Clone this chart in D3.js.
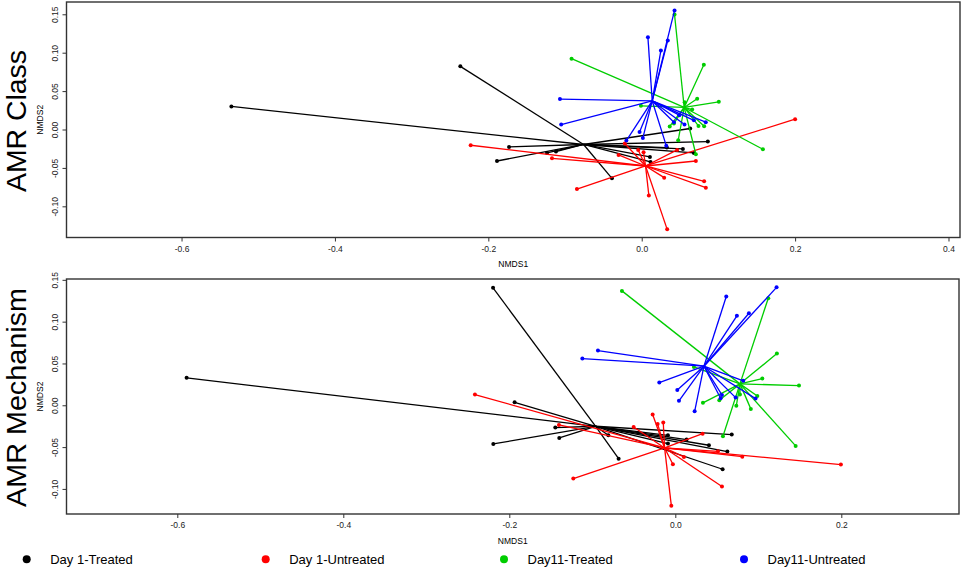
<!DOCTYPE html>
<html>
<head>
<meta charset="utf-8">
<script src="https://cdn.jsdelivr.net/npm/d3@7"></script>
<style>
  body { margin: 0; background: #fff; }
  svg { display: block; font-family: "Liberation Sans", Arial, sans-serif; }
</style>
</head>
<body>
<script>
/* data */
const groups = ["Day 1-Treated", "Day 1-Untreated", "Day11-Treated", "Day11-Untreated"];
const groupColors = ["#000000", "#ff0000", "#00cd00", "#0000ff"];
const panelTitles = ["AMR Class", "AMR Mechanism"];
const xTicksClass = [-0.6, -0.4, -0.2, 0.0, 0.2, 0.4];
const xTicksMech = [-0.6, -0.4, -0.2, 0.0, 0.2];
const yTicks = [-0.10, -0.05, 0.00, 0.05, 0.10, 0.15];

// AMR Class: centroids (same order as groups)
const classCentroids = [[-0.0758, -0.0195], [0.005, -0.0475], [0.0554, 0.0287], [0.0137, 0.0372]];
const classD1T = [[-0.535, 0.030], [-0.2365, 0.0822], [-0.173, -0.0227], [-0.1887, -0.041], [-0.1235, -0.0305],
  [-0.1118, -0.0287], [-0.0388, -0.0636], [0.0632, 0.0013], [0.0862, -0.0157], [0.0328, -0.0235],
  [0.0537, -0.0253], [0.068, -0.0305], [0.0107, -0.0357], [0.0115, -0.0423]];
const classD1U = [[-0.223, -0.0205], [-0.117, -0.0375], [-0.0845, -0.0775], [-0.0302, -0.0331], [-0.022, -0.0183],
  [-0.0046, -0.0266], [0.0024, -0.0296], [0.0093, -0.0858], [0.0293, -0.0627], [0.0332, -0.130],
  [0.0706, -0.041], [0.0814, -0.0675], [0.0836, -0.0757], [0.0462, -0.0266], [0.200, 0.0134]];
const classD11T = [[0.0428, 0.1496], [-0.0915, 0.0922], [0.081, 0.0843], [0.0723, 0.040], [0.1005, 0.036],
  [-0.001, 0.0308], [0.0658, 0.026], [0.056, 0.0356], [0.158, -0.0257], [0.0706, -0.0322],
  [0.0476, -0.014], [0.0365, 0.004], [0.042, 0.0078], [0.074, 0.0047], [0.0814, 0.0043]];
const classD11U = [[0.0428, 0.155], [0.0081, 0.120], [0.034, 0.116], [0.025, 0.103], [-0.1066, 0.0396],
  [-0.105, 0.0065], [-0.0028, -0.0031], [0.0015, -0.011], [-0.020, -0.0144], [0.032, -0.021],
  [0.042, 0.0095], [0.0558, 0.0065], [0.068, 0.012], [0.0835, 0.0095], [0.049, 0.0187]];

// AMR Mechanism
const mechCentroids = [[-0.096, -0.0251], [-0.0129, -0.051], [0.0779, 0.0256], [0.0345, 0.0467]];
const mechD1T = [[-0.5888, 0.0328], [-0.2196, 0.1404], [-0.1936, 0.0036], [-0.2193, -0.0462], [-0.1446, -0.0267],
  [-0.1398, -0.039], [-0.0683, -0.0638], [-0.0807, -0.0359], [0.068, -0.035], [-0.0089, -0.0359],
  [0.0136, -0.041], [-0.0089, -0.0458], [0.0405, -0.0478], [0.0627, -0.0554], [0.057, -0.0765]];
const mechD1U = [[-0.2414, 0.0128], [-0.1402, -0.0235], [-0.1229, -0.0877], [-0.0502, -0.0259], [-0.0273, -0.0111],
  [-0.0213, -0.0223], [-0.0145, -0.0207], [-0.0029, -0.0706], [-0.0048, -0.120], [0.0329, -0.0339],
  [0.0513, -0.055], [0.0807, -0.0614], [0.0562, -0.0972], [0.1995, -0.0709], [0.0104, -0.0617]];
const mechD11T = [[-0.0643, 0.1368], [0.112, 0.128], [0.1224, 0.0618], [0.1048, 0.0319], [0.149, 0.0236],
  [0.0224, 0.0459], [0.0333, 0.0029], [0.053, 0.006], [0.0735, -0.0007], [0.0779, 0.0128],
  [0.091, -0.0043], [0.0988, 0.0112], [0.145, -0.0486], [0.0574, -0.037]];
const mechD11U = [[0.122, 0.141], [0.0614, 0.130], [0.0742, 0.107], [0.0887, 0.110], [-0.0932, 0.0654],
  [-0.112, 0.0559], [-0.0193, 0.0271], [0.0024, 0.0184], [0.0044, 0.0053], [0.0233, -0.0072],
  [0.0562, 0.0124], [0.0546, 0.0084], [0.0727, 0.0092], [0.0819, 0.0292], [0.0967, 0.008]];
/* data */

let width = 964;
let height = 570;

let svg = d3.select("body").append("svg")
  .attr("width", width)
  .attr("height", height);

/* one panel */
function drawPanel(opt) {
  let x = d3.scaleLinear().domain(opt.xDomain).range([opt.left, opt.right]);
  let y = d3.scaleLinear().domain(opt.yDomain).range([opt.bottom, opt.top]);
  let g = svg.append("g");

  // spider lines + points
  opt.series.forEach(function (pts, i) {
    let c = opt.centroids[i];
    g.append("g").selectAll("line").data(pts).join("line")
      .attr("x1", x(c[0])).attr("y1", y(c[1]))
      .attr("x2", d => x(d[0])).attr("y2", d => y(d[1]))
      .attr("stroke", groupColors[i])
      .attr("stroke-width", 1.3);
    g.append("g").selectAll("circle").data(pts).join("circle")
      .attr("cx", d => x(d[0])).attr("cy", d => y(d[1]))
      .attr("r", 2)
      .attr("fill", groupColors[i]);
  });

  // axes
  let axX = g.append("g")
    .attr("transform", "translate(0," + opt.bottom + ")")
    .call(d3.axisBottom(x).tickValues(opt.xTicks).tickFormat(d => d.toFixed(1)).tickSize(4).tickPadding(4));
  let axY = g.append("g")
    .attr("transform", "translate(" + opt.left + ",0)")
    .call(d3.axisLeft(y).tickValues(yTicks).tickFormat(d => d.toFixed(2)).tickSize(4));
  [axX, axY].forEach(function (ax) {
    ax.select(".domain").remove();
    ax.selectAll("line").attr("stroke", "#333");
    ax.selectAll("text").attr("font-size", 8.5).attr("fill", "#222")
      .attr("font-family", "'Liberation Sans', Arial, sans-serif");
  });
  axY.selectAll("text")
    .attr("x", 0).attr("y", -8.5).attr("dy", null)
    .attr("transform", "rotate(-90)")
    .attr("text-anchor", "middle");

  // box
  g.append("rect")
    .attr("x", opt.left).attr("y", opt.top)
    .attr("width", opt.right - opt.left).attr("height", opt.bottom - opt.top)
    .attr("fill", "none").attr("stroke", "#333").attr("stroke-width", 1.4);

  // axis titles
  g.append("text")
    .attr("x", (opt.left + opt.right) / 2).attr("y", opt.bottom + 29.5)
    .attr("text-anchor", "middle").attr("font-size", 8.5)
    .text("NMDS1");
  g.append("text")
    .attr("transform", "translate(43," + (opt.top + opt.bottom) / 2 + ") rotate(-90)")
    .attr("text-anchor", "middle").attr("font-size", 8.5)
    .text("NMDS2");

  // panel title
  g.append("text")
    .attr("transform", "translate(26," + opt.titleY + ") rotate(-90)")
    .attr("text-anchor", "middle").attr("font-size", 28)
    .attr("textLength", opt.titleLen).attr("lengthAdjust", "spacingAndGlyphs")
    .text(opt.title);
}

drawPanel({
  title: panelTitles[0], titleY: 121, titleLen: 142,
  left: 66.5, right: 960, top: 2, bottom: 237.5,
  xDomain: [-0.750, 0.415], yDomain: [-0.1406, 0.166],
  xTicks: xTicksClass,
  centroids: classCentroids,
  series: [classD1T, classD1U, classD11T, classD11U]
});

drawPanel({
  title: panelTitles[1], titleY: 397.5, titleLen: 219,
  left: 66.5, right: 959, top: 279, bottom: 514,
  xDomain: [-0.7335, 0.3418], yDomain: [-0.130, 0.151],
  xTicks: xTicksMech,
  centroids: mechCentroids,
  series: [mechD1T, mechD1U, mechD11T, mechD11U]
});

/* legend */
let legendX = [26.7, 265.7, 504, 744];
let legend = svg.append("g").attr("transform", "translate(0,559.3)");
let item = legend.selectAll("g").data(groups).join("g")
  .attr("transform", (d, i) => "translate(" + legendX[i] + ",0)");
item.append("circle").attr("r", 4).attr("fill", (d, i) => groupColors[i]);
item.append("text")
  .attr("x", 23.5).attr("y", 4.6)
  .attr("font-size", 13)
  .text(d => d);
</script>
</body>
</html>
